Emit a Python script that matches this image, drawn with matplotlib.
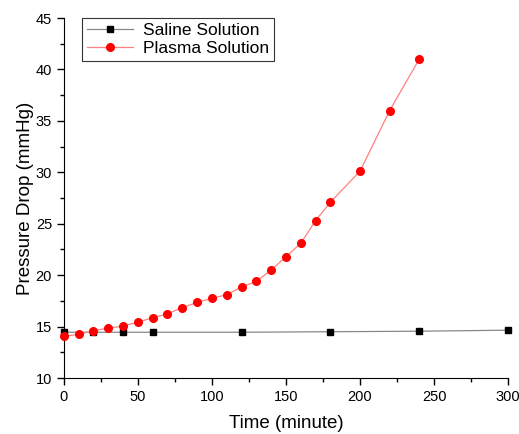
import matplotlib
matplotlib.use("Agg")
import matplotlib.pyplot as plt

plt.rcParams['font.family'] = ['Liberation Sans', 'DejaVu Sans']

saline_time = [0, 20, 40, 60, 120, 180, 240, 300]
saline_drop = [14.45, 14.45, 14.45, 14.45, 14.45, 14.5, 14.55, 14.65]

plasma_time = [0, 10, 20, 30, 40, 50, 60, 70, 80, 90, 100, 110, 120, 130,
               140, 150, 160, 170, 180, 200, 220, 240]
plasma_drop = [14.05, 14.25, 14.6, 14.85, 15.05, 15.45, 15.85, 16.25, 16.85,
               17.35, 17.75, 18.1, 18.85, 19.4, 20.5, 21.8, 23.1, 25.3, 27.1,
               30.1, 36.0, 41.0]

fig = plt.figure(figsize=(5.19, 4.34), dpi=100)
ax = fig.add_axes([0.123, 0.129, 0.856, 0.8295])

ax.plot(saline_time, saline_drop, color='#888888', lw=0.9, marker='s',
        markersize=4.5, markerfacecolor='black', markeredgecolor='black',
        label='Saline Solution', clip_on=False, zorder=3)
ax.plot(plasma_time, plasma_drop, color='#ff8080', lw=0.9, marker='o',
        markersize=5.5, markerfacecolor='red', markeredgecolor='red',
        label='Plasma Solution', clip_on=False, zorder=4)

ax.set_xlim(0, 300)
ax.set_ylim(10, 45)
ax.set_xticks(range(0, 301, 50))
ax.set_xticks(range(25, 300, 50), minor=True)
ax.set_yticks(range(10, 46, 5))
ax.set_yticks([12.5 + 5 * i for i in range(7)], minor=True)
ax.spines['top'].set_visible(False)
ax.spines['right'].set_visible(False)
ax.tick_params(which='major', direction='out', length=5, width=1, labelsize=10.5)
ax.tick_params(which='minor', direction='out', length=3, width=1)

ax.set_xlabel('Time (minute)', fontsize=13.5, labelpad=8)
ax.set_ylabel('Pressure Drop (mmHg)', fontsize=13.5, labelpad=1)

leg = ax.legend(loc='upper left', bbox_to_anchor=(0.022, 1.025), fontsize=12.5,
                frameon=True, fancybox=False, edgecolor='black',
                handlelength=2.6, handletextpad=0.6, borderpad=0.3,
                labelspacing=0.15)
leg.get_frame().set_linewidth(0.8)

fig.savefig('out.png', dpi=100)
